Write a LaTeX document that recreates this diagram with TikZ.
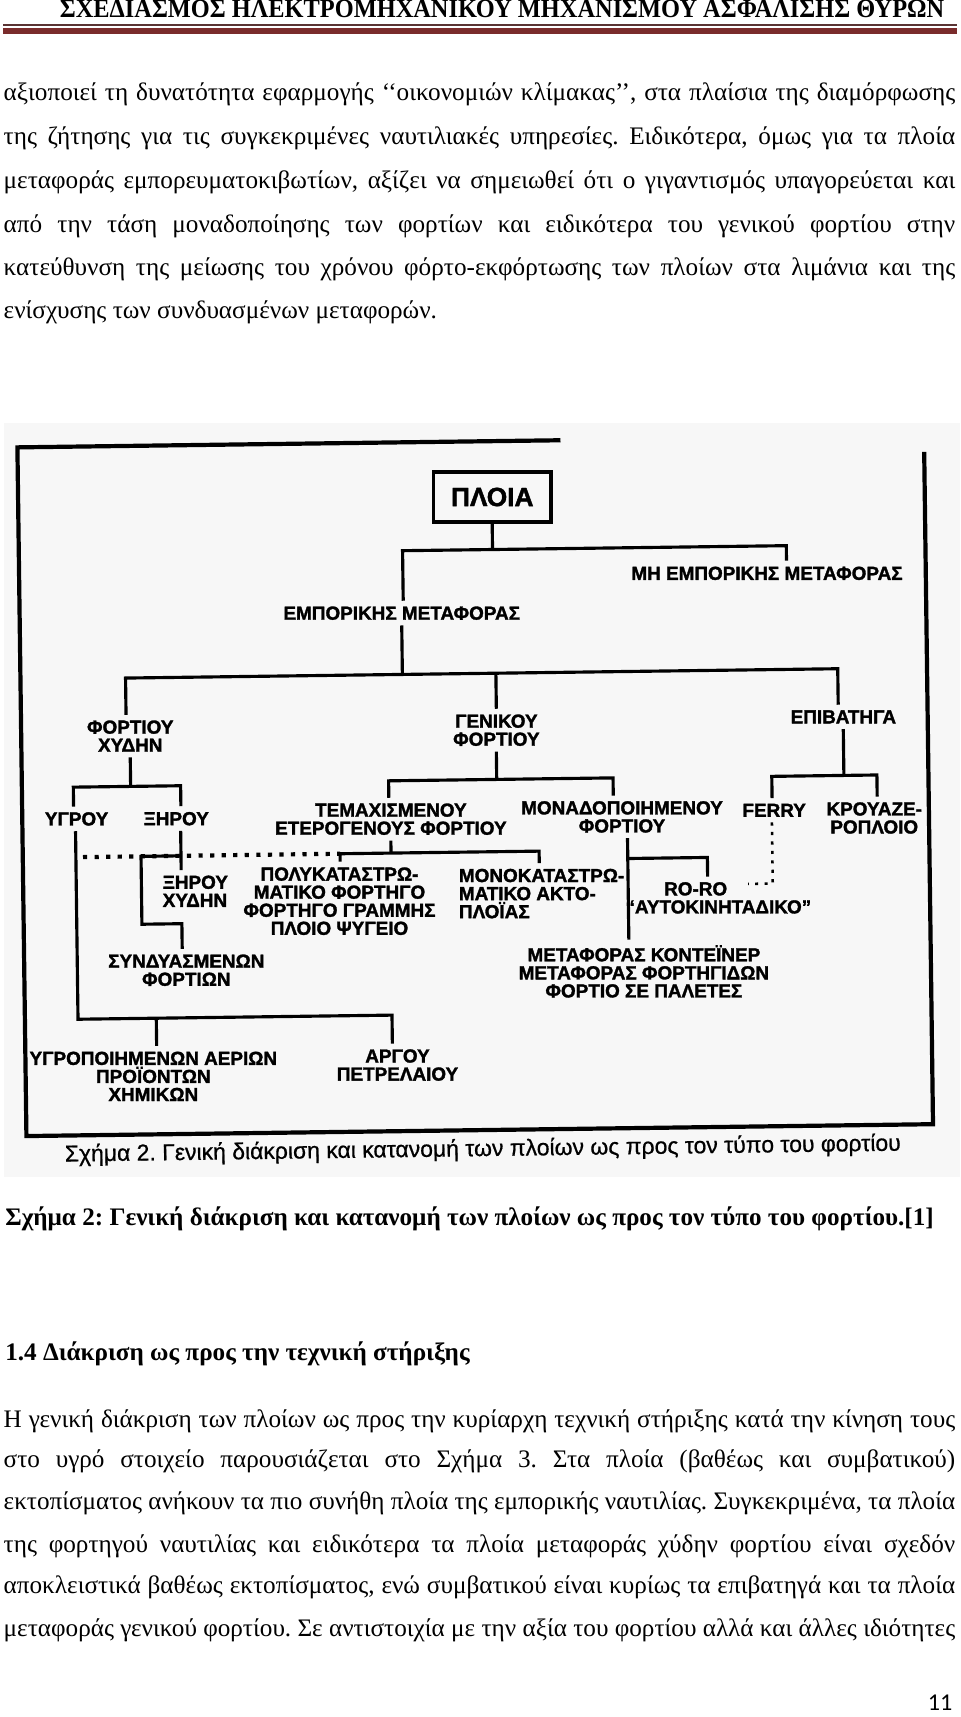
\documentclass[tikz,border=0pt]{standalone}
\usepackage{graphicx}
\usepackage{fontspec}
\setmainfont{Liberation Serif}
\newfontfamily\diafont[BoldFeatures={FakeBold=1.6}]{Liberation Sans}
\newfontfamily\capfont[FakeBold=0.7]{Liberation Sans}
\newfontfamily\pagefont{Carlito}
\usetikzlibrary{positioning}
\frenchspacing

\definecolor{headred}{RGB}{122,44,44}
\definecolor{headdark}{RGB}{90,52,52}

\newsavebox\linebox
\newcommand{\jline}[1]{\sbox\linebox{#1}\ifdim\wd\linebox>453pt\resizebox{453pt}{\height}{\usebox\linebox}\else\makebox[453pt][s]{#1}\fi}

\tikzset{
  body/.style={anchor=base west,inner sep=0pt,font=\fontsize{12}{14}\selectfont},
  frame/.style={line width=2pt},
  conn/.style={line width=1.5pt},
  dotline/.style={line width=2pt,dash pattern=on 2pt off 3.5pt},
  dotthin/.style={line width=1.2pt,dash pattern=on 1.5pt off 3pt},
  lbl/.style={font=\diafont\bfseries\fontsize{9}{8.6}\selectfont,align=center,inner sep=2.5pt},
  box/.style={draw,line width=1.8pt,minimum width=56pt,minimum height=24pt,inner sep=0pt,
    font=\diafont\bfseries\fontsize{12.5}{14}\selectfont},
}

\begin{document}
\begin{tikzpicture}[x=0.5213pt,y=-0.5213pt]
\useasboundingbox (0,0) rectangle (877,1568);

% page header
\node[anchor=base,inner sep=0pt] (head) at (458.5,16) {\resizebox{421pt}{8.3pt}{\bfseries ΣΧΕΔΙΑΣΜΟΣ ΗΛΕΚΤΡΟΜΗΧΑΝΙΚΟΥ ΜΗΧΑΝΙΣΜΟΥ ΑΣΦΑΛΙΣΗΣ ΘΥΡΩΝ}};
\draw[headdark,line width=1pt] (3,22.8) -- (874,22.8);
\draw[headred,line width=2.8pt] (3,28.3) -- (874,28.3);

% first paragraph
\node[body] (pa1) at (3,91.5) {\jline{αξιοποιεί τη δυνατότητα εφαρμογής ‘‘οικονομιών κλίμακας’’, στα πλαίσια της διαμόρφωσης}};
\node[body] (pa2) at (3,131.5) {\jline{της ζήτησης για τις συγκεκριμένες ναυτιλιακές υπηρεσίες. Ειδικότερα, όμως για τα πλοία}};
\node[body] (pa3) at (3,172.5) {\jline{μεταφοράς εμπορευματοκιβωτίων, αξίζει να σημειωθεί ότι ο γιγαντισμός υπαγορεύεται και}};
\node[body] (pa4) at (3,212.5) {\jline{από την τάση μοναδοποίησης των φορτίων και ειδικότερα του γενικού φορτίου στην}};
\node[body] (pa5) at (3,251.5) {\jline{κατεύθυνση της μείωσης του χρόνου φόρτο-εκφόρτωσης των πλοίων στα λιμάνια και της}};
\node[body] (pa6) at (3,290.5) {ενίσχυσης των συνδυασμένων μεταφορών.};

% scanned figure
\fill[black!3] (4,386) rectangle (877,1075);
\begin{scope}[rotate around={0.75:(440,720)}]
\draw[frame] (516,403) -- (20,403) -- (20,1032) -- (848,1032) -- (848,418);

\node[box] (ploia) at (453,454) {ΠΛΟΙΑ};
\node[lbl] (mh) at (703,527) {ΜΗ ΕΜΠΟΡΙΚΗΣ ΜΕΤΑΦΟΡΑΣ};
\node[lbl] (emp) at (369,559) {ΕΜΠΟΡΙΚΗΣ ΜΕΤΑΦΟΡΑΣ};
\coordinate (b1l) at (370.5,502); \coordinate (b1r) at (721,502);
\draw[conn] (ploia.south) -- (ploia.south |- b1l);
\draw[conn] (b1l |- emp.north) -- (b1l) -- (b1r) -- (b1r |- mh.north);

\node[lbl] (xydhn) at (119.6,668) {ΦΟΡΤΙΟΥ\\ΧΥΔΗΝ};
\node[lbl] (geniko) at (454,667) {ΓΕΝΙΚΟΥ\\ΦΟΡΤΙΟΥ};
\node[lbl] (epib) at (771,659) {ΕΠΙΒΑΤΗΓΑ};
\coordinate (b2l) at (116,615); \coordinate (b2r) at (766.5,615);
\draw[conn] (emp.south) -- (emp.south |- b2l);
\draw[conn] (b2l |- xydhn.north) -- (b2l) -- (b2r) -- (b2r |- epib.north);
\draw[conn] (geniko.north) -- (geniko.north |- b2l);

\node[lbl] (ygrou) at (69.6,743) {ΥΓΡΟΥ};
\node[lbl] (xhrou) at (160.6,744) {ΞΗΡΟΥ};
\coordinate (b3l) at (67,714); \coordinate (b3r) at (165,714);
\draw[conn] (xydhn.south) -- (xydhn.south |- b3l);
\draw[conn] (b3l |- ygrou.north) -- (b3l) -- (b3r) -- (b3r |- xhrou.north);

\node[lbl] (temax) at (356.6,747) {ΤΕΜΑΧΙΣΜΕΝΟΥ\\ΕΤΕΡΟΓΕΝΟΥΣ ΦΟΡΤΙΟΥ};
\node[lbl] (monad) at (567.7,747.7) {ΜΟΝΑΔΟΠΟΙΗΜΕΝΟΥ\\ΦΟΡΤΙΟΥ};
\coordinate (b4l) at (355,712); \coordinate (b4r) at (560,712);
\draw[conn] (geniko.south) -- (geniko.south |- b4l);
\draw[conn] (b4l |- temax.north) -- (b4l) -- (b4r) -- (b4r |- monad.north);

\node[lbl] (ferry) at (706.7,743.5) {FERRY};
\node[lbl] (krouaz) at (798,751.7) {ΚΡΟΥΑΖΕ-\\ΡΟΠΛΟΙΟ};
\coordinate (b5l) at (705,712.5); \coordinate (b5r) at (801,712.5);
\draw[conn] (epib.south) -- (epib.south |- b5l);
\draw[conn] (b5l |- ferry.north) -- (b5l) -- (b5r) -- (b5r |- krouaz.north);

\node[lbl,align=left,anchor=west] (xhrxyd) at (142.2,810) {ΞΗΡΟΥ\\ΧΥΔΗΝ};
\node[lbl] (synd) at (168,882.5) {ΣΥΝΔΥΑΣΜΕΝΩΝ\\ΦΟΡΤΙΩΝ};
\node[lbl] (poly) at (308.7,821.3) {ΠΟΛΥΚΑΤΑΣΤΡΩ-\\ΜΑΤΙΚΟ ΦΟΡΤΗΓΟ\\ΦΟΡΤΗΓΟ ΓΡΑΜΜΗΣ\\ΠΛΟΙΟ ΨΥΓΕΙΟ};
\node[lbl,align=left,anchor=west] (mono) at (412.7,815.7) {ΜΟΝΟΚΑΤΑΣΤΡΩ-\\ΜΑΤΙΚΟ ΑΚΤΟ-\\ΠΛΟΪΑΣ};
\node[lbl] (roro) at (654.7,822.8) {RO-RO\hspace*{2.4em}\\“ΑΥΤΟΚΙΝΗΤΑΔΙΚΟ”};
\node[lbl] (kont) at (585.8,889) {ΜΕΤΑΦΟΡΑΣ ΚΟΝΤΕΪΝΕΡ\\ΜΕΤΑΦΟΡΑΣ ΦΟΡΤΗΓΙΔΩΝ\\ΦΟΡΤΙΟ ΣΕ ΠΑΛΕΤΕΣ};
\node[lbl] (ygropoi) at (136.6,979) {ΥΓΡΟΠΟΙΗΜΕΝΩΝ ΑΕΡΙΩΝ\\ΠΡΟΪΟΝΤΩΝ\\ΧΗΜΙΚΩΝ};
\node[lbl] (argou) at (359.7,971.6) {ΑΡΓΟΥ\\ΠΕΤΡΕΛΑΙΟΥ};

% bulk cargo branches
\coordinate (b6l) at (68.5,926); \coordinate (b6m) at (140,926); \coordinate (b6r) at (355.3,926);
\draw[conn] (ygrou.south -| b6l) -- (b6l) -- (b6r) -- (b6r |- argou.north);
\draw[conn] (b6m) -- (b6m |- ygropoi.north);
\coordinate (xv) at (164.5,778); \coordinate (k1) at (128,778); \coordinate (k2) at (128,840);
\draw[conn] (xv |- xhrou.south) -- (xv |- xhrxyd.north);
\draw[conn] (xv) -- (k1) -- (k2) -| (synd.north -| xv);

% general cargo branches
\coordinate (b7l) at (309.8,778); \coordinate (b7r) at (491.6,778);
\draw[conn] (temax.south) -- (temax.south |- b7l);
\draw[conn] (b7l |- poly.north) -- (b7l) -- (b7r) -- (b7r |- mono.north);
\coordinate (dl) at (75,778);
\draw[dotline] (dl) -- (b7l);
\coordinate (ms) at (572.5,785.8); \coordinate (rr) at (645.2,785.8);
\draw[conn] (monad.south -| ms) -- (ms |- kont.north);
\draw[conn] (ms) -- (rr) -- (rr |- roro.north);
\coordinate (fd) at (704.6,810.4); \coordinate (fe) at (682,810.4);
\draw[dotthin] (ferry.south -| fd) -- (fd) -- (fe);

\node[inner sep=0pt,rotate=0.75,font=\capfont\fontsize{11}{13}\selectfont] (imgcap) at (436.6,1050) {\resizebox{398pt}{\height}{Σχήμα 2. Γενική διάκριση και κατανομή των πλοίων ως προς τον τύπο του φορτίου}};
\end{scope}

% caption and next section
\node[body] (cap) at (4.5,1119) {\resizebox{442pt}{\height}{\bfseries Σχήμα 2: Γενική διάκριση και κατανομή των πλοίων ως προς τον τύπο του φορτίου.[1]}};
\node[body] (sec) at (4.5,1242) {\resizebox{221pt}{\height}{\bfseries 1.4 Διάκριση ως προς την τεχνική στήριξης}};

\node[body] (pb1) at (3,1303.5) {\jline{Η γενική διάκριση των πλοίων ως προς την κυρίαρχη τεχνική στήριξης κατά την κίνηση τους}};
\node[body] (pb2) at (3,1340.5) {\jline{στο υγρό στοιχείο παρουσιάζεται στο Σχήμα 3. Στα πλοία (βαθέως και συμβατικού)}};
\node[body] (pb3) at (3,1378.5) {\jline{εκτοπίσματος ανήκουν τα πιο συνήθη πλοία της εμπορικής ναυτιλίας. Συγκεκριμένα, τα πλοία}};
\node[body] (pb4) at (3,1417.5) {\jline{της φορτηγού ναυτιλίας και ειδικότερα τα πλοία μεταφοράς χύδην φορτίου είναι σχεδόν}};
\node[body] (pb5) at (3,1455.5) {\jline{αποκλειστικά βαθέως εκτοπίσματος, ενώ συμβατικού είναι κυρίως τα επιβατηγά και τα πλοία}};
\node[body] (pb6) at (3,1494.5) {\jline{μεταφοράς γενικού φορτίου. Σε αντιστοιχία με την αξία του φορτίου αλλά και άλλες ιδιότητες}};

\node[anchor=base east,inner sep=0pt,font=\pagefont\fontsize{11.5}{14}\selectfont] (pnum) at (870,1562) {11};
\end{tikzpicture}
\end{document}
